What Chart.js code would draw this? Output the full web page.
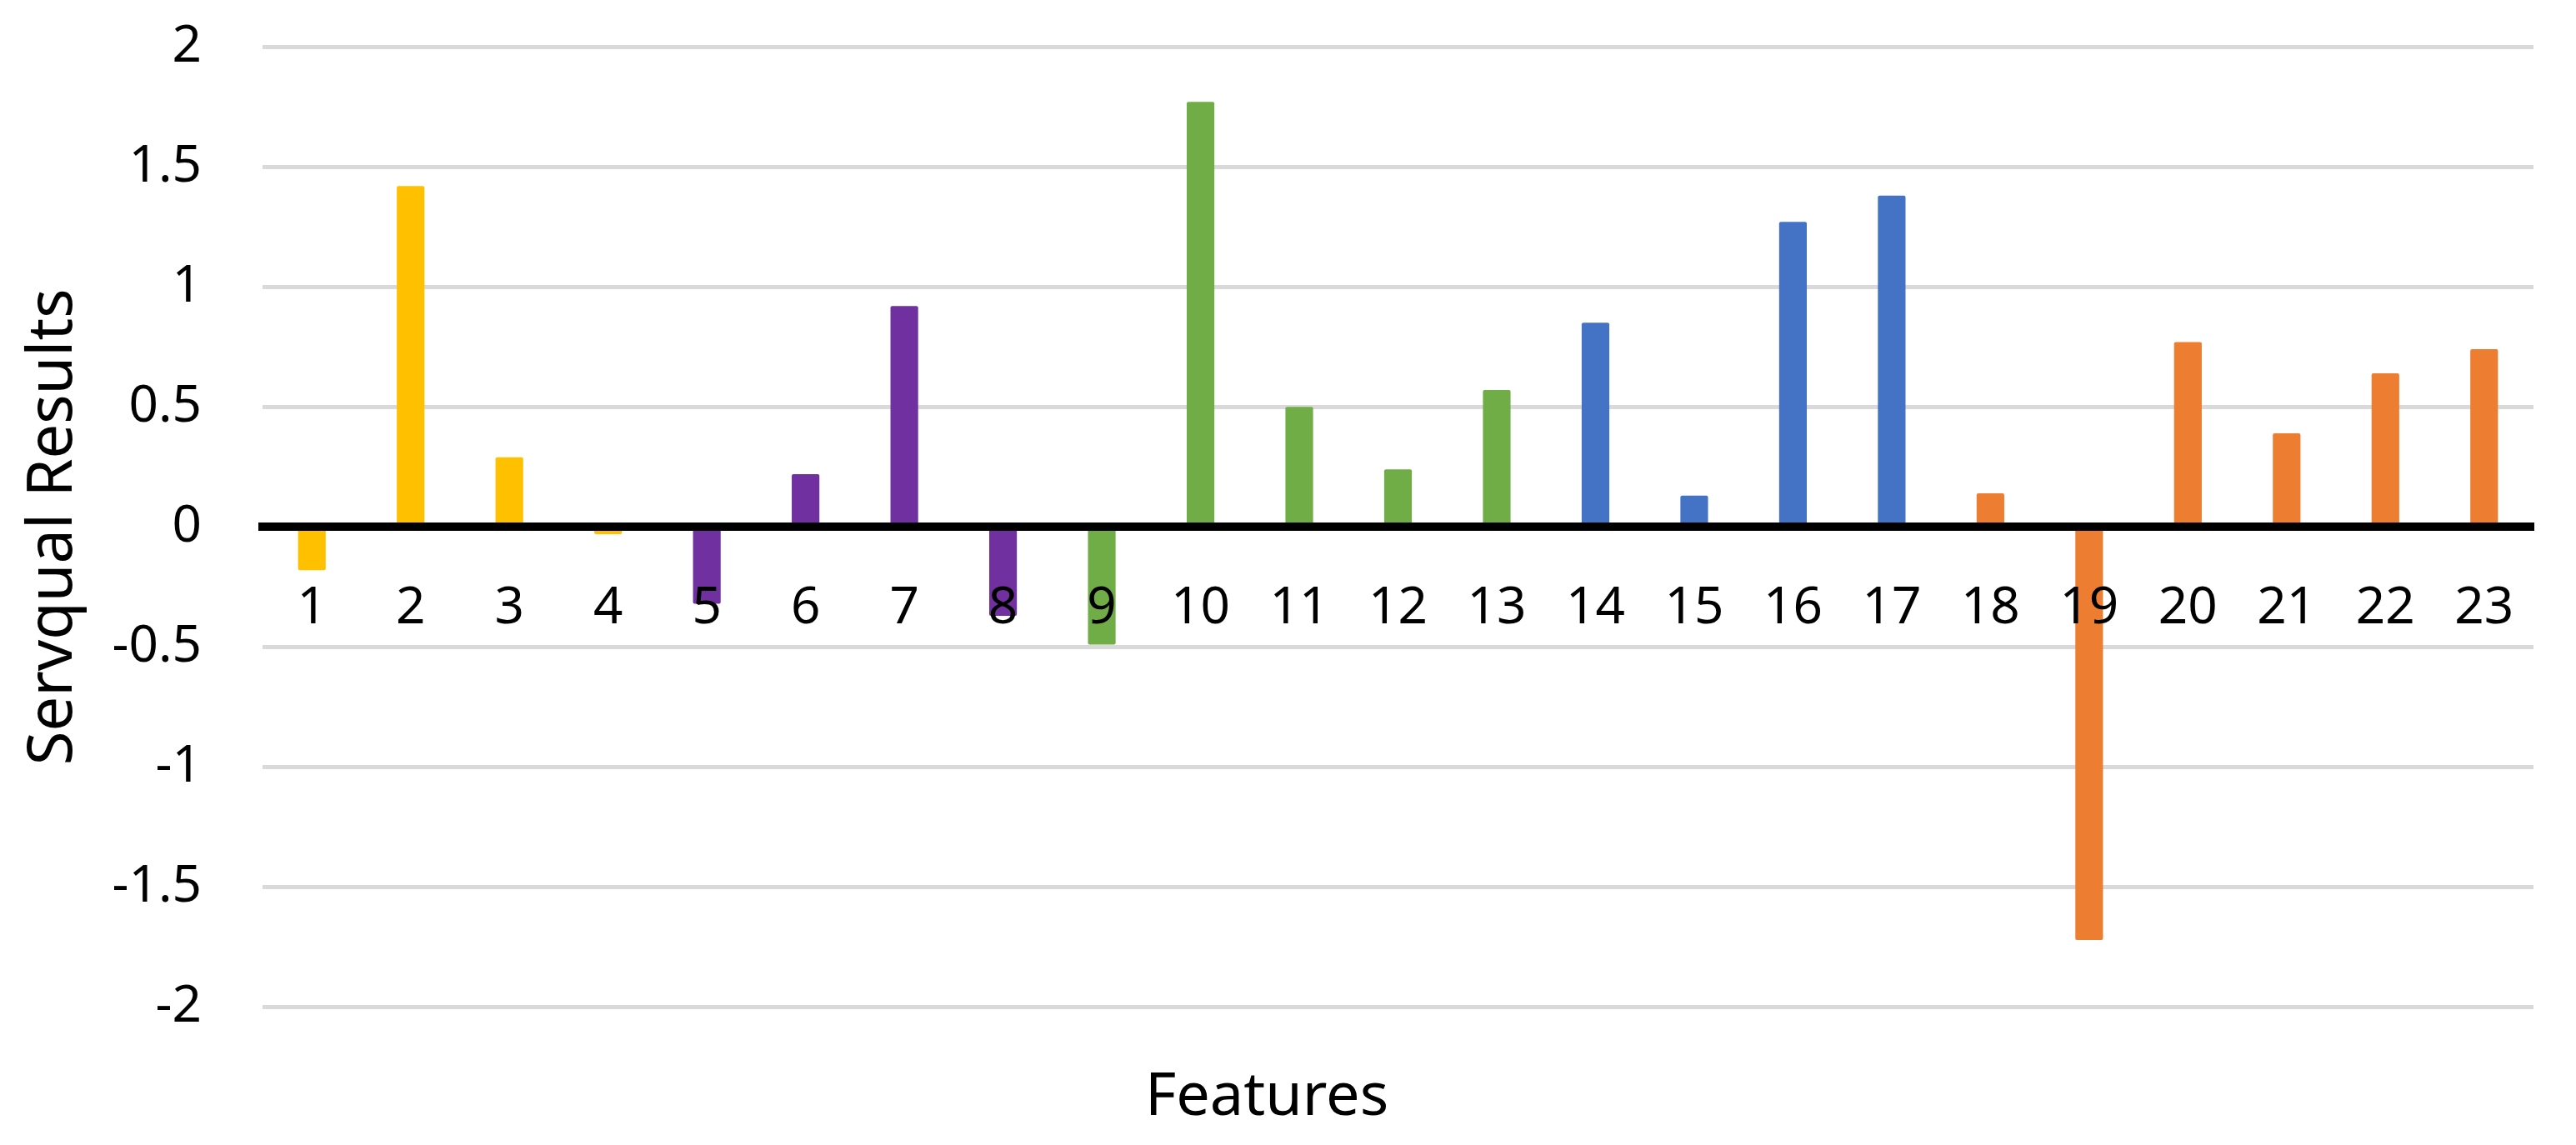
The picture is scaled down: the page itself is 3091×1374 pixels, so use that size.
<!DOCTYPE html>
<html>
<head>
<meta charset="utf-8">
<script src="https://cdn.jsdelivr.net/npm/chart.js@4.4.1/dist/chart.umd.min.js"></script>
<style>
  html, body { margin: 0; padding: 0; background: #ffffff; }
  #wrap { width: 3091px; height: 1374px; }
</style>
</head>
<body>
<div id="wrap"><canvas id="c" width="3091" height="1374"></canvas></div>
<script>
// ---- data ----
const categories = ['1','2','3','4','5','6','7','8','9','10','11','12','13','14','15','16','17','18','19','20','21','22','23'];
const values = [-0.18, 1.42, 0.29, -0.03, -0.32, 0.22, 0.92, -0.37, -0.49, 1.77, 0.50, 0.24, 0.57, 0.85, 0.13, 1.27, 1.38, 0.14, -1.72, 0.77, 0.39, 0.64, 0.74];
const groupOfFeature = [0,0,0,0, 1,1,1,1, 2,2,2,2,2, 3,3,3,3, 4,4,4,4,4,4];
const groupColors = ['#FFC000', '#7030A0', '#70AD47', '#4472C4', '#ED7D31'];
const yTicks = [-2, -1.5, -1, -0.5, 0, 0.5, 1, 1.5, 2];
const yTickLabels = ['-2', '-1.5', '-1', '-0.5', '0', '0.5', '1', '1.5', '2'];
const yTitle = 'Servqual Results';
const xTitle = 'Features';

const barColors = groupOfFeature.map(g => groupColors[g]);
const FONT = "'Noto Sans', 'Open Sans', sans-serif";

new Chart(document.getElementById('c'), {
  type: 'bar',
  data: {
    labels: categories,
    datasets: [{
      data: values,
      backgroundColor: barColors,
      borderWidth: 0,
      borderRadius: 2,
      borderSkipped: false,
      barPercentage: 0.28,
      categoryPercentage: 1.0
    }]
  },
  options: {
    responsive: false,
    animation: false,
    layout: { padding: { top: 56, right: 51, bottom: 0, left: 0 } },
    plugins: {
      legend: { display: false },
      tooltip: { enabled: false },
      title: {
        display: true,
        text: xTitle,
        position: 'bottom',
        color: '#000',
        font: { family: FONT, size: 72, weight: 'normal' },
        padding: { top: 66, bottom: 13 }
      }
    },
    scales: {
      x: {
        type: 'category',
        position: { y: 0 },
        offset: true,
        grid: { display: false, drawTicks: false },
        border: { display: true, color: '#000000', width: 10, z: 1 },
        ticks: {
          z: 2,
          color: '#000',
          padding: 61,
          maxRotation: 0,
          autoSkip: false,
          font: { family: FONT, size: 62 }
        }
      },
      y: {
        min: -2,
        max: 2,
        afterBuildTicks: s => { s.ticks = yTicks.map(v => ({ value: v })); },
        afterFit: s => { s.width = 315; s.paddingTop = 30; s.paddingBottom = 30; },
        grid: { color: '#D9D9D9', lineWidth: 5, drawTicks: false },
        border: { display: false },
        ticks: {
          color: '#000',
          padding: 73,
          font: { family: FONT, size: 62 },
          callback: (v) => {
            const i = yTicks.findIndex(t => Math.abs(t - v) < 1e-9);
            return i >= 0 ? yTickLabels[i] : '';
          }
        },
        title: {
          display: true,
          text: yTitle,
          color: '#000',
          font: { family: FONT, size: 74 },
          padding: { top: 21, bottom: 0 }
        }
      }
    }
  }
});
</script>
</body>
</html>
